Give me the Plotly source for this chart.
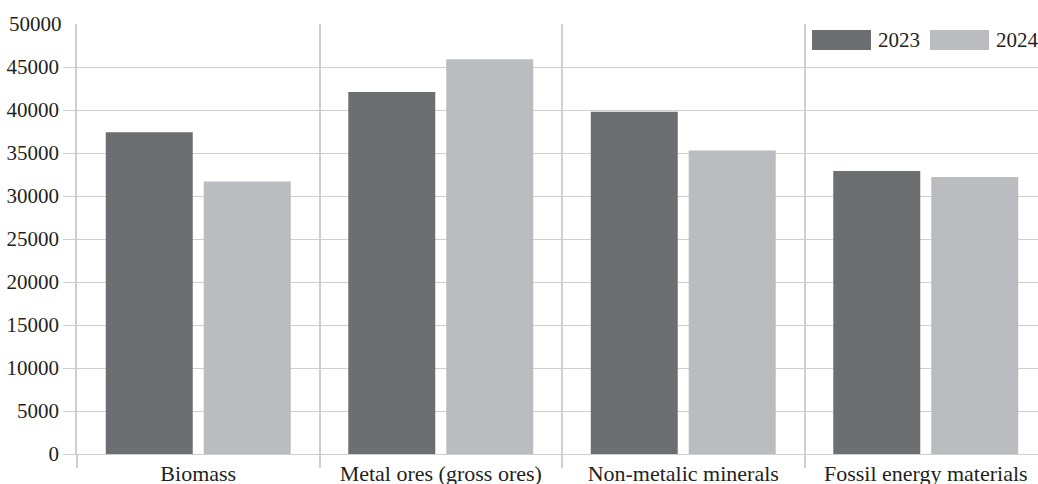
import plotly.graph_objects as go

# Material categories and yearly values
categories = ["Biomass", "Metal ores (gross ores)", "Non-metalic minerals", "Fossil energy materials"]
years = ["2023", "2024"]
values_2023 = [37400, 42100, 39800, 32900]
values_2024 = [31700, 45900, 35300, 32200]
y_ticks = [0, 5000, 10000, 15000, 20000, 25000, 30000, 35000, 40000, 45000]
y_top = 50000

colors = ["#6d6e71", "#bbbcbf"]
grid_color = "#cfcfd2"
text_color = "#231f20"
font_family = "Liberation Serif, Times New Roman, serif"
fs = 21

W, H = 1038, 484
ml, mr, mt, mb = 77, 0, 24, 30
pw, ph = W - ml - mr, H - mt - mb
cat_px = 242.5  # pixel width of one category slot
x_range = [-0.5, -0.5 + pw / cat_px]

xs = list(range(len(categories)))

fig = go.Figure()
for name, vals, col in zip(years, [values_2023, values_2024], colors):
    fig.add_trace(go.Bar(x=xs, y=vals, name=name, marker=dict(color=col, line=dict(width=0)),
                         showlegend=False, hoverinfo="y+name"))

# invisible trace so the boundary axis is rendered
fig.add_trace(go.Scatter(x=[x_range[0]], y=[0], xaxis="x2", mode="markers",
                         marker=dict(opacity=0), showlegend=False, hoverinfo="skip"))

boundaries = [i - 0.5 for i in range(len(categories) + 1)]

fig.update_layout(
    width=W, height=H,
    margin=dict(l=ml, r=mr, t=mt, b=mb, pad=0, autoexpand=False),
    paper_bgcolor="white", plot_bgcolor="white",
    font=dict(family=font_family, size=fs, color=text_color),
    barmode="group", bargap=0.192, bargroupgap=0.112,
    xaxis=dict(range=x_range, tickvals=xs, ticktext=categories, ticks="", ticklen=0,
               showgrid=False, zeroline=False, showline=True, linecolor=grid_color,
               linewidth=1, ticklabelstandoff=0, tickfont=dict(size=22), automargin=False),
    xaxis2=dict(range=x_range, overlaying="x", side="bottom", tickvals=boundaries,
                showticklabels=False, ticks="outside", ticklen=13, tickcolor=grid_color,
                tickwidth=1.5, showgrid=True, gridcolor=grid_color, gridwidth=1.5,
                zeroline=False, showline=False, automargin=False),
    yaxis=dict(range=[0, y_top], tickvals=y_ticks, ticktext=[str(v) for v in y_ticks],
               ticks="outside", ticklen=12, tickcolor=grid_color, tickwidth=1,
               showgrid=True, gridcolor=grid_color, gridwidth=1, zeroline=False,
               showline=True, linecolor=grid_color, linewidth=1.5, tickfont=dict(size=fs),
               automargin=False),
)

def px_x(p):
    return (p - ml) / pw

def px_y(p):
    return (H - mb - p) / ph

# top value label without a gridline
fig.add_annotation(text=str(y_top), xref="paper", yref="y", x=px_x(64), y=y_top,
                   xanchor="right", yanchor="middle", showarrow=False,
                   font=dict(size=fs, color=text_color))

# legend: wide swatches with year labels
sw_x = [812, 930]
for name, col, x0 in zip(years, colors, sw_x):
    fig.add_shape(type="rect", xref="paper", yref="paper",
                  x0=px_x(x0), x1=px_x(x0 + 59), y0=px_y(50), y1=px_y(30),
                  fillcolor=col, line=dict(width=0), layer="above")
    fig.add_annotation(text=name, xref="paper", yref="paper", x=px_x(x0 + 64), y=px_y(40),
                       xanchor="left", yanchor="middle", showarrow=False,
                       font=dict(size=fs, color=text_color))

fig.write_html("out.html")
